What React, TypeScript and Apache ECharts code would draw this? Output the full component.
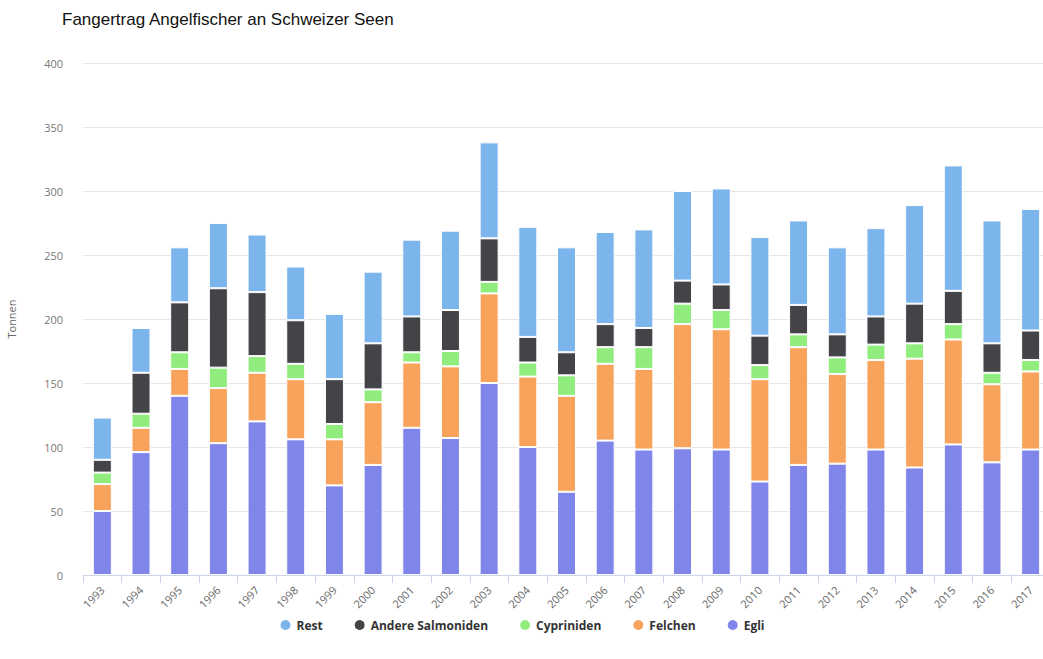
import React, { useEffect, useRef } from "react";
import * as echarts from "echarts";

const years = ["1993","1994","1995","1996","1997","1998","1999","2000","2001","2002","2003","2004","2005","2006","2007","2008","2009","2010","2011","2012","2013","2014","2015","2016","2017"];
const egli = [50, 96, 140, 103, 120, 106, 70, 86, 115, 107, 150, 100, 65, 105, 98, 99, 98, 73, 86, 87, 98, 84, 102, 88, 98];
const felchen = [21, 19, 21, 43, 38, 47, 36, 49, 51, 56, 70, 55, 75, 60, 63, 97, 94, 80, 92, 70, 70, 85, 82, 61, 61];
const cypriniden = [9, 11, 13, 16, 13, 12, 12, 10, 8, 12, 9, 11, 16, 13, 17, 16, 15, 11, 10, 13, 12, 12, 12, 9, 9];
const salmoniden = [10, 32, 39, 62, 50, 34, 35, 36, 28, 32, 34, 20, 18, 18, 15, 18, 20, 23, 23, 18, 22, 31, 26, 23, 23];
const rest = [33, 35, 43, 51, 45, 42, 51, 56, 60, 62, 75, 86, 82, 72, 77, 70, 75, 77, 66, 68, 69, 77, 98, 96, 95];
const yTicks = [0, 50, 100, 150, 200, 250, 300, 350, 400];

export default function App() {
  const ref = useRef<HTMLDivElement>(null);
  useEffect(() => {
    const chart = echarts.init(ref.current!, undefined, { renderer: "svg" });
    const mk = (name: string, data: number[], color: string) => ({
      name,
      type: "bar",
      stack: "total",
      data,
      barWidth: 19,
      itemStyle: { color, borderColor: "#fff", borderWidth: 1 },
    });
    chart.setOption({
      animation: false,
      title: {
        text: "Fangertrag Angelfischer an Schweizer Seen",
        left: 57,
        top: 6,
        textStyle: { fontFamily: "Liberation Sans", fontSize: 17, fontWeight: "normal", color: "#111" },
      },
      grid: { left: 83, width: 967, top: 63, bottom: 84, containLabel: false, outerBoundsMode: "none" },
      xAxis: {
        type: "category",
        data: years,
        axisLine: { lineStyle: { color: "#ccd6eb" } },
        axisTick: { show: true, alignWithLabel: false, length: 8, lineStyle: { color: "#ccd6eb" } },
        axisLabel: { rotate: 45, color: "#666", fontSize: 11, fontFamily: "Open Sans", margin: 13 },
      },
      yAxis: {
        type: "value",
        min: yTicks[0],
        max: yTicks[yTicks.length - 1],
        interval: 50,
        name: "Tonnen",
        nameLocation: "middle",
        nameGap: 66,
        nameTextStyle: { color: "#666", fontSize: 11, fontFamily: "Open Sans" },
        axisLabel: { color: "#777", fontSize: 11, fontFamily: "Open Sans", margin: 20 },
        splitLine: { lineStyle: { color: "#e6e6e6" } },
        axisLine: { show: false },
        axisTick: { show: false },
      },
      legend: {
        data: ["Rest", "Andere Salmoniden", "Cypriniden", "Felchen", "Egli"],
        bottom: 22,
        left: "center",
        icon: "circle",
        itemWidth: 12,
        itemHeight: 12,
        itemGap: 30,
        textStyle: { color: "#333", fontSize: 12, fontWeight: "bold", fontFamily: "Open Sans" },
      },
      series: [
        mk("Egli", egli, "#8085e9"),
        mk("Felchen", felchen, "#f7a35c"),
        mk("Cypriniden", cypriniden, "#90ed7d"),
        mk("Andere Salmoniden", salmoniden, "#434348"),
        mk("Rest", rest, "#7cb5ec"),
      ],
    });
    return () => chart.dispose();
  }, []);
  return <div ref={ref} style={{ position: "absolute", left: 0, top: 0, width: 1043, height: 659 }} />;
}
